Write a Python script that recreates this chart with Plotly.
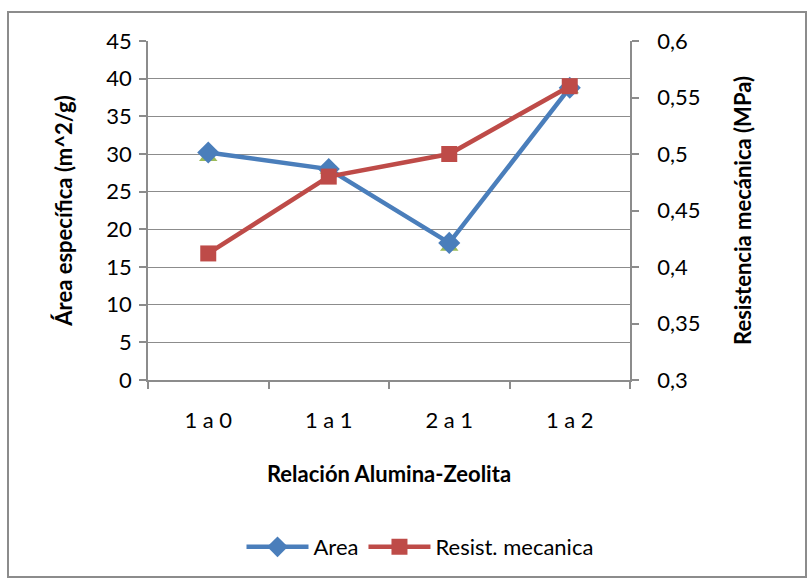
import plotly.graph_objects as go

categories = ["1 a 0", "1 a 1", "2 a 1", "1 a 2"]
area = [30.2, 28.0, 18.2, 38.8]
area_marker = [29.6, 27.9, 17.7, 38.6]
resist = [0.412, 0.480, 0.500, 0.560]

BLUE = "#4A7EBB"
RED = "#BE4B48"
GREEN = "#9BBB59"
GRID = "#8C8C8C"
FONT = "Lato"

fig = go.Figure()
fig.add_trace(go.Scatter(x=categories, y=area_marker, mode="markers", showlegend=False,
                         marker=dict(symbol="triangle-up", size=16, color=GREEN), yaxis="y"))
fig.add_trace(go.Scatter(x=categories, y=area, mode="lines+markers", name="Area",
                         line=dict(color=BLUE, width=4.5),
                         marker=dict(symbol="diamond", size=17, color=BLUE), yaxis="y"))
fig.add_trace(go.Scatter(x=categories, y=resist, mode="lines+markers", name="Resist. mecanica",
                         line=dict(color=RED, width=4.5),
                         marker=dict(symbol="square", size=16, color=RED), yaxis="y2"))

L, R, T, B = 148, 630, 41, 380
W, H = 808, 580
def px(x):
    return (x - L) / (R - L)
def py(y):
    return (B - y) / (B - T)

TICK = 22
TITLE = 22

fig.update_layout(
    width=W, height=H,
    margin=dict(l=L, r=W - R, t=T, b=H - B, pad=0),
    paper_bgcolor="white", plot_bgcolor="white",
    separators=",.",
    font=dict(family=FONT, size=TICK, color="#000000"),
    xaxis=dict(type="category", range=[-0.5, 3.5], tickson="boundaries",
               ticks="outside", ticklen=7, tickcolor=GRID, tickwidth=1.5,
               showline=True, linecolor=GRID, linewidth=1.5, showgrid=False,
               tickfont=dict(size=TICK), ticklabelstandoff=20,
               title=dict(text="<b>Relación Alumina-Zeolita</b>", font=dict(size=TITLE), standoff=34)),
    yaxis=dict(range=[0, 45], dtick=5, ticks="outside", ticklen=7, tickcolor=GRID, tickwidth=1.5,
               showline=True, linecolor=GRID, linewidth=1.5, showgrid=True, gridcolor=GRID, gridwidth=1.3,
               zeroline=False, tickfont=dict(size=TICK), ticklabelstandoff=3,
               title=dict(text="<b>Área específica (m^2/g)</b>", font=dict(size=TITLE), standoff=28)),
    yaxis2=dict(range=[0.3, 0.6], dtick=0.05, overlaying="y", side="right", ticks="outside", ticklen=7,
                tickcolor=GRID, tickwidth=1.5, showline=True, linecolor=GRID, linewidth=1.5,
                showgrid=False, zeroline=False, tickfont=dict(size=TICK), ticklabelstandoff=14,
                tickformat=".2~f",
                title=dict(text="<b>Resistencia mecánica (MPa)</b>", font=dict(size=TITLE), standoff=36)),
    legend=dict(orientation="h", x=px(420), xanchor="center", y=py(547), yanchor="middle",
                font=dict(size=TICK), itemwidth=62, bgcolor="rgba(0,0,0,0)"),
    shapes=[dict(type="rect", xref="paper", yref="paper",
                 x0=px(8), x1=px(806), y0=py(577), y1=py(12),
                 line=dict(color="#8C8C8C", width=2), layer="below")],
)

fig.write_html("out.html")
